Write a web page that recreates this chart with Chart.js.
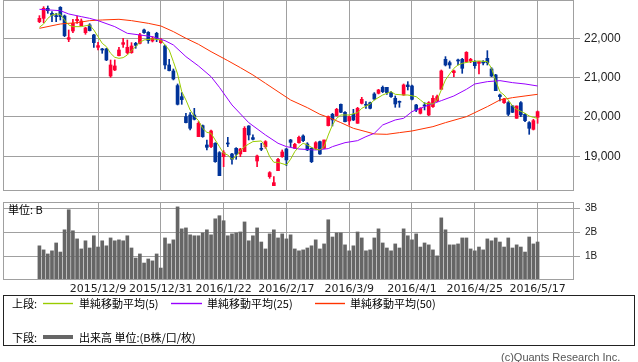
<!DOCTYPE html>
<html>
<head>
<meta charset="utf-8">
<script src="https://cdn.jsdelivr.net/npm/chart.js@4.4.1/dist/chart.umd.min.js"></script>
<style>
  body { margin: 0; background: #fff; width: 638px; height: 362px; overflow: hidden; position: relative; }
  canvas { position: absolute; left: 0; }
  #price { top: 0; }
  #vol { top: 196px; }
  .t { position: absolute; font-family: "Noto Sans CJK JP", sans-serif; font-size: 11px; line-height: 12px; color: #000; white-space: nowrap; }
  #legend { position: absolute; left: 3px; top: 295px; width: 632px; height: 51px; border: 1px solid #222; box-sizing: border-box; }
  #keys { position: absolute; left: 0; top: 295px; }
  #copy { position: absolute; left: 501px; top: 351px; font-family: "Liberation Sans", sans-serif; font-size: 11px; color: #555; }
</style>
</head>
<body>
<canvas id="price" width="638" height="191"></canvas>
<canvas id="vol" width="638" height="100"></canvas>
<div class="t" style="left:8px;top:203px">単位: B</div>
<div id="legend"></div>
<svg id="keys" width="360" height="51">
  <line x1="43" x2="73" y1="8.5" y2="8.5" stroke="#99cc00" stroke-width="1.4"/>
  <line x1="171" x2="202" y1="8.5" y2="8.5" stroke="#9900ff" stroke-width="1.4"/>
  <line x1="315" x2="345" y1="8.5" y2="8.5" stroke="#ff3300" stroke-width="1.4"/>
  <line x1="43" x2="73" y1="42" y2="42" stroke="#666666" stroke-width="4"/>
</svg>
<div class="t" style="left:12px;top:297px">上段:</div>
<div class="t" style="left:79px;top:297px">単純移動平均(5)</div>
<div class="t" style="left:207px;top:297px">単純移動平均(25)</div>
<div class="t" style="left:350px;top:297px">単純移動平均(50)</div>
<div class="t" style="left:12px;top:331px">下段:</div>
<div class="t" style="left:79px;top:331px">出来高 単位:(B株/口/枚)</div>
<div id="copy">(c)Quants Research Inc.</div>
<script>
// price data, one entry per trading day
const opens = [22424,22508,22763,22636,22568,22788,22568,21975,22186,22449,22322,22144,22339,22085,21771,21729,21729,21042,21195,21559,
  21847,21636,21636,21873,21873,22212,22153,21932,22127,21890,21805,21322,21170,20797,20517,20008,20051,20051,19500,19780,
  19288,19246,19331,19093,18991,19331,19059,19203,19059,19119,19771,19475,18881,19203,19246,18483,18254,18635,18991,19186,
  19415,19203,19347,19517,19314,19203,19203,19373,19203,19780,20068,20034,20322,20119,19898,20068,19839,20347,20314,20364,
  20585,20602,20754,20754,20619,20475,20390,20559,20814,20788,20305,20093,20305,20051,20263,20415,20703,21466,21381,21127,
  21449,21466,21407,21424,21407,21364,21398,21491,21220,21068,20559,20364,20364,20280,19966,20364,20068,19856,19686,19991];
const highs = [22576,22805,22822,22678,22636,22805,22593,22212,22483,22568,22492,22280,22373,22100,21898,21746,21746,21449,21449,21771,
  22000,21958,21890,21898,22127,22237,22170,22042,22153,22000,21831,21466,21220,20839,20619,20093,20110,20220,19881,19797,
  19415,19669,19347,19119,19144,19483,19076,19220,19203,19754,19780,19543,19034,19331,19398,18610,18483,18949,19161,19203,
  19432,19331,19517,19543,19347,19220,19373,19390,19415,20025,20093,20220,20331,20136,20025,20195,20246,20500,20390,20381,
  20619,20703,20788,20754,20644,20534,20407,20839,20898,20814,20322,20237,20364,20390,20542,20559,21195,21534,21424,21195,
  21475,21491,21661,21491,21432,21407,21432,21686,21254,21085,20585,20475,20390,20297,20280,20390,20085,19881,19941,20153];
const lows = [22398,22398,22636,22424,22424,22466,22042,21915,22144,22381,22314,22102,22186,21771,21703,21619,21432,21008,21178,21551,
  21771,21602,21619,21746,21856,22127,21873,21907,21915,21873,21220,21170,20941,20305,20322,19848,19669,19924,19500,19483,
  19161,19220,18847,18508,18737,19246,18797,18924,18991,19119,19415,19415,18737,19144,19203,18441,18254,18635,18974,18763,
  19246,19203,19331,19373,19144,18839,19178,19051,19203,19771,19771,20025,20110,19873,19797,19907,19839,20331,20220,20203,
  20432,20585,20619,20576,20500,20246,20246,20551,20686,20432,20136,20076,20178,20034,20246,20390,20703,21297,21237,21025,
  21322,21110,21381,21381,21237,21093,21322,21322,21025,20669,20407,20347,20034,20110,19966,20008,19881,19559,19669,19839];
const closes = [22508,22763,22703,22585,22551,22551,22068,22017,22381,22483,22441,22263,22195,21890,21814,21703,21449,21322,21297,21703,
  21890,21771,21805,21822,22085,22144,21941,22000,22000,21949,21322,21178,20966,20322,20441,19856,19712,19941,19839,19500,
  19229,19644,18864,18508,19093,19314,18924,19059,19186,19712,19543,19432,19008,19178,19373,18585,18330,18924,19110,18907,
  19356,19305,19483,19398,19161,18864,19347,19059,19415,20008,19924,20195,20119,19881,20008,19924,20220,20449,20297,20220,
  20458,20686,20644,20619,20517,20331,20373,20814,20771,20449,20178,20220,20280,20364,20475,20517,21170,21322,21322,21170,
  21424,21237,21644,21466,21305,21407,21373,21381,21042,20669,20517,20458,20068,20119,20280,20051,19907,19712,19907,20136];

// volume in billions of shares
const volumes = [1.43,1.26,1.09,1.22,1.55,1.17,2.10,2.94,2.06,1.72,
  1.30,1.64,1.34,1.85,1.38,1.64,1.43,1.76,1.64,1.68,
  1.64,1.85,1.34,0.92,1.09,0.71,0.88,0.80,1.09,0.50,
  1.76,1.51,1.68,3.06,2.14,2.18,1.89,1.85,1.85,1.97,
  2.10,1.89,2.56,2.69,2.48,1.85,1.93,1.97,2.01,2.43,
  1.64,1.85,2.18,1.59,1.30,1.93,2.10,1.76,1.93,1.72,
  1.89,1.30,1.22,1.26,1.34,1.43,1.68,1.30,1.51,2.52,
  1.80,1.97,1.97,1.47,1.22,1.43,2.01,1.76,1.22,1.26,
  1.76,2.14,1.55,1.34,1.22,1.51,1.34,2.14,1.85,1.68,
  1.93,1.38,1.55,1.47,1.26,1.01,2.60,2.10,1.47,1.47,
  1.51,1.76,1.76,1.30,1.22,1.38,1.26,1.72,1.64,1.76,
  1.59,1.38,1.76,1.34,1.47,1.38,1.17,1.80,1.51,1.59];

// moving averages (day index -> value)
const ma5At = [0,1,2,3,4,5,6,7,8,10,12,13,14,15,16,17,18,19,20,21,22,23,24,25,27,29,30,31,32,33,34,35,36,37,38,39,40,41,42,43,44,45,46,47,48,49,50,51,
  53,54,55,56,57,59,60,61,62,63,64,65,66,67,68,69,70,71,72,74,76,77,79,80,82,84,85,87,88,90,91,92,94,95,96,97,98,99,100,101,103,105,107,
  108,109,110,111,112,113,114,116,117,118,119];
const ma5 = [22280,22364,22508,22593,22619,22610,22466,22339,22297,22297,22339,22212,22042,21873,21788,21619,21517,21491,21508,21576,21686,21788,21898,21958,
  21983,21958,21831,21703,21407,21093,20644,20432,20178,20025,19907,19712,19610,19585,19415,19246,19076,19034,18924,19008,19144,19246,19313,19373,
  19390,19246,18991,18847,18847,18780,18924,19119,19246,19331,19288,19229,19178,19161,19246,19542,19797,19966,20051,20051,20110,20220,20330,20432,
  20559,20644,20576,20559,20559,20517,20432,20347,20330,20432,20686,20941,21093,21237,21322,21364,21407,21424,21407,21237,20915,20644,20559,20432,
  20280,20195,20093,20025,19991,19966];
const ma25At = [0,5,7,10,12,14,18,21,24,27,30,32,35,38,41,43,46,50,54,57,59,62,66,69,70,73,76,78,80,82,85,87,89,92,96,99,102,104,107,110,113,116,119];
const ma25 = [22737,22703,22619,22551,22508,22449,22297,22127,22085,22042,21941,21831,21534,21297,21025,20754,20305,19856,19542,19331,
  19246,19186,19161,19195,19246,19347,19398,19500,19585,19797,19924,19966,20136,20263,20415,20534,20703,20839,20898,20924,20873,20839,20788];
const ma50At = [0,5,9,12,15,19,22,26,29,32,35,38,41,45,48,51,54,57,60,64,67,69,72,75,78,80,83,86,89,94,97,102,107,110,113,116,119];
const ma50 = [22254,22364,22398,22449,22466,22483,22449,22381,22314,22170,22000,21847,21661,21432,21254,21068,20856,20644,20432,20237,
  20068,19991,19856,19712,19627,19568,19559,19602,19644,19754,19856,20008,20263,20432,20491,20534,20576];

const tickIdx = [14,29,44,59,74,89,104,119];
const tickLabels = ['2015/12/9','2015/12/31','2016/1/22','2016/2/17','2016/3/9','2016/4/1','2016/4/25','2016/5/17'];
const priceTicks = [19000,20000,21000,22000];
const volTicks = [1,2,3];

const RED = '#ff0033', BLUE = '#003399', GRID = '#a0a0a0';
const days = closes.map((c, i) => i);
const candleColor = days.map(i => closes[i] >= opens[i] ? RED : BLUE);
const pts = (at, vals) => at.map((x, k) => ({ x, y: vals[k] }));

// grey frame round the plot area
const frame = {
  id: 'frame',
  afterDraw(chart) {
    const a = chart.chartArea, c = chart.ctx;
    c.save();
    c.strokeStyle = GRID;
    c.lineWidth = 1;
    c.strokeRect(Math.round(a.left) + 0.5, Math.round(a.top) + 0.5, Math.round(a.right - a.left) - 1, Math.round(a.bottom - a.top) - 1);
    c.restore();
  }
};

const xAxis = (showLabels) => ({
  type: 'linear',
  offset: false,
  min: -8.7,
  max: 127.7,
  afterBuildTicks: s => { s.ticks = tickIdx.map(v => ({ value: v })); },
  afterFit: s => { s.height = showLabels ? 16 : 0; s.paddingLeft = 0; s.paddingRight = 0; },
  grid: { color: GRID, drawTicks: false, offset: false },
  border: { display: false },
  ticks: {
    display: showLabels,
    autoSkip: false,
    maxRotation: 0,
    padding: 3,
    color: '#222',
    font: { family: 'DejaVu Sans', size: 11 },
    callback: v => tickLabels[tickIdx.indexOf(v)]
  }
});

const yAxis = (min, max, ticks, fmt, size, pad) => ({
  position: 'right',
  min,
  max,
  afterBuildTicks: s => { s.ticks = ticks.map(v => ({ value: v })); },
  afterFit: s => { s.width = 64; s.paddingTop = 0; s.paddingBottom = 0; },
  grid: { color: GRID, tickLength: 6 },
  border: { display: false },
  ticks: { padding: pad, color: '#222', font: { family: 'Liberation Sans', size }, callback: fmt }
});

new Chart(document.getElementById('price'), {
  type: 'bar',
  data: {
    datasets: [
      { type: 'line', data: pts(ma5At, ma5), borderColor: '#99cc00', borderWidth: 1, pointRadius: 0, order: 1 },
      { type: 'line', data: pts(ma25At, ma25), borderColor: '#9900ff', borderWidth: 1, pointRadius: 0, order: 2 },
      { type: 'line', data: pts(ma50At, ma50), borderColor: '#ff3300', borderWidth: 1, pointRadius: 0, order: 3 },
      { data: days.map(i => ({ x: i, y: [opens[i], closes[i]] })), backgroundColor: candleColor,
        barThickness: 3, grouped: false, minBarLength: 1, order: 4 },
      { data: days.map(i => ({ x: i, y: [lows[i], highs[i]] })), backgroundColor: candleColor,
        barThickness: 1, grouped: false, order: 5 }
    ]
  },
  options: {
    responsive: false,
    animation: false,
    events: [],
    layout: { padding: { left: 3, top: 0, right: 0, bottom: 0 } },
    plugins: { legend: { display: false }, tooltip: { enabled: false } },
    scales: {
      x: xAxis(false),
      y: yAxis(18118, 22974, priceTicks, v => v.toLocaleString('en-US'), 12, 4)
    }
  },
  plugins: [frame]
});

new Chart(document.getElementById('vol'), {
  type: 'bar',
  data: {
    datasets: [
      { data: days.map(i => ({ x: i, y: volumes[i] })), backgroundColor: '#666666', barThickness: 3, grouped: false }
    ]
  },
  options: {
    responsive: false,
    animation: false,
    events: [],
    layout: { padding: { left: 3, top: 6, right: 0, bottom: 0 } },
    plugins: { legend: { display: false }, tooltip: { enabled: false } },
    scales: {
      x: xAxis(true),
      y: yAxis(0, 3.264, volTicks, v => v + 'B', 10, 5)
    }
  },
  plugins: [frame]
});
</script>
</body>
</html>
